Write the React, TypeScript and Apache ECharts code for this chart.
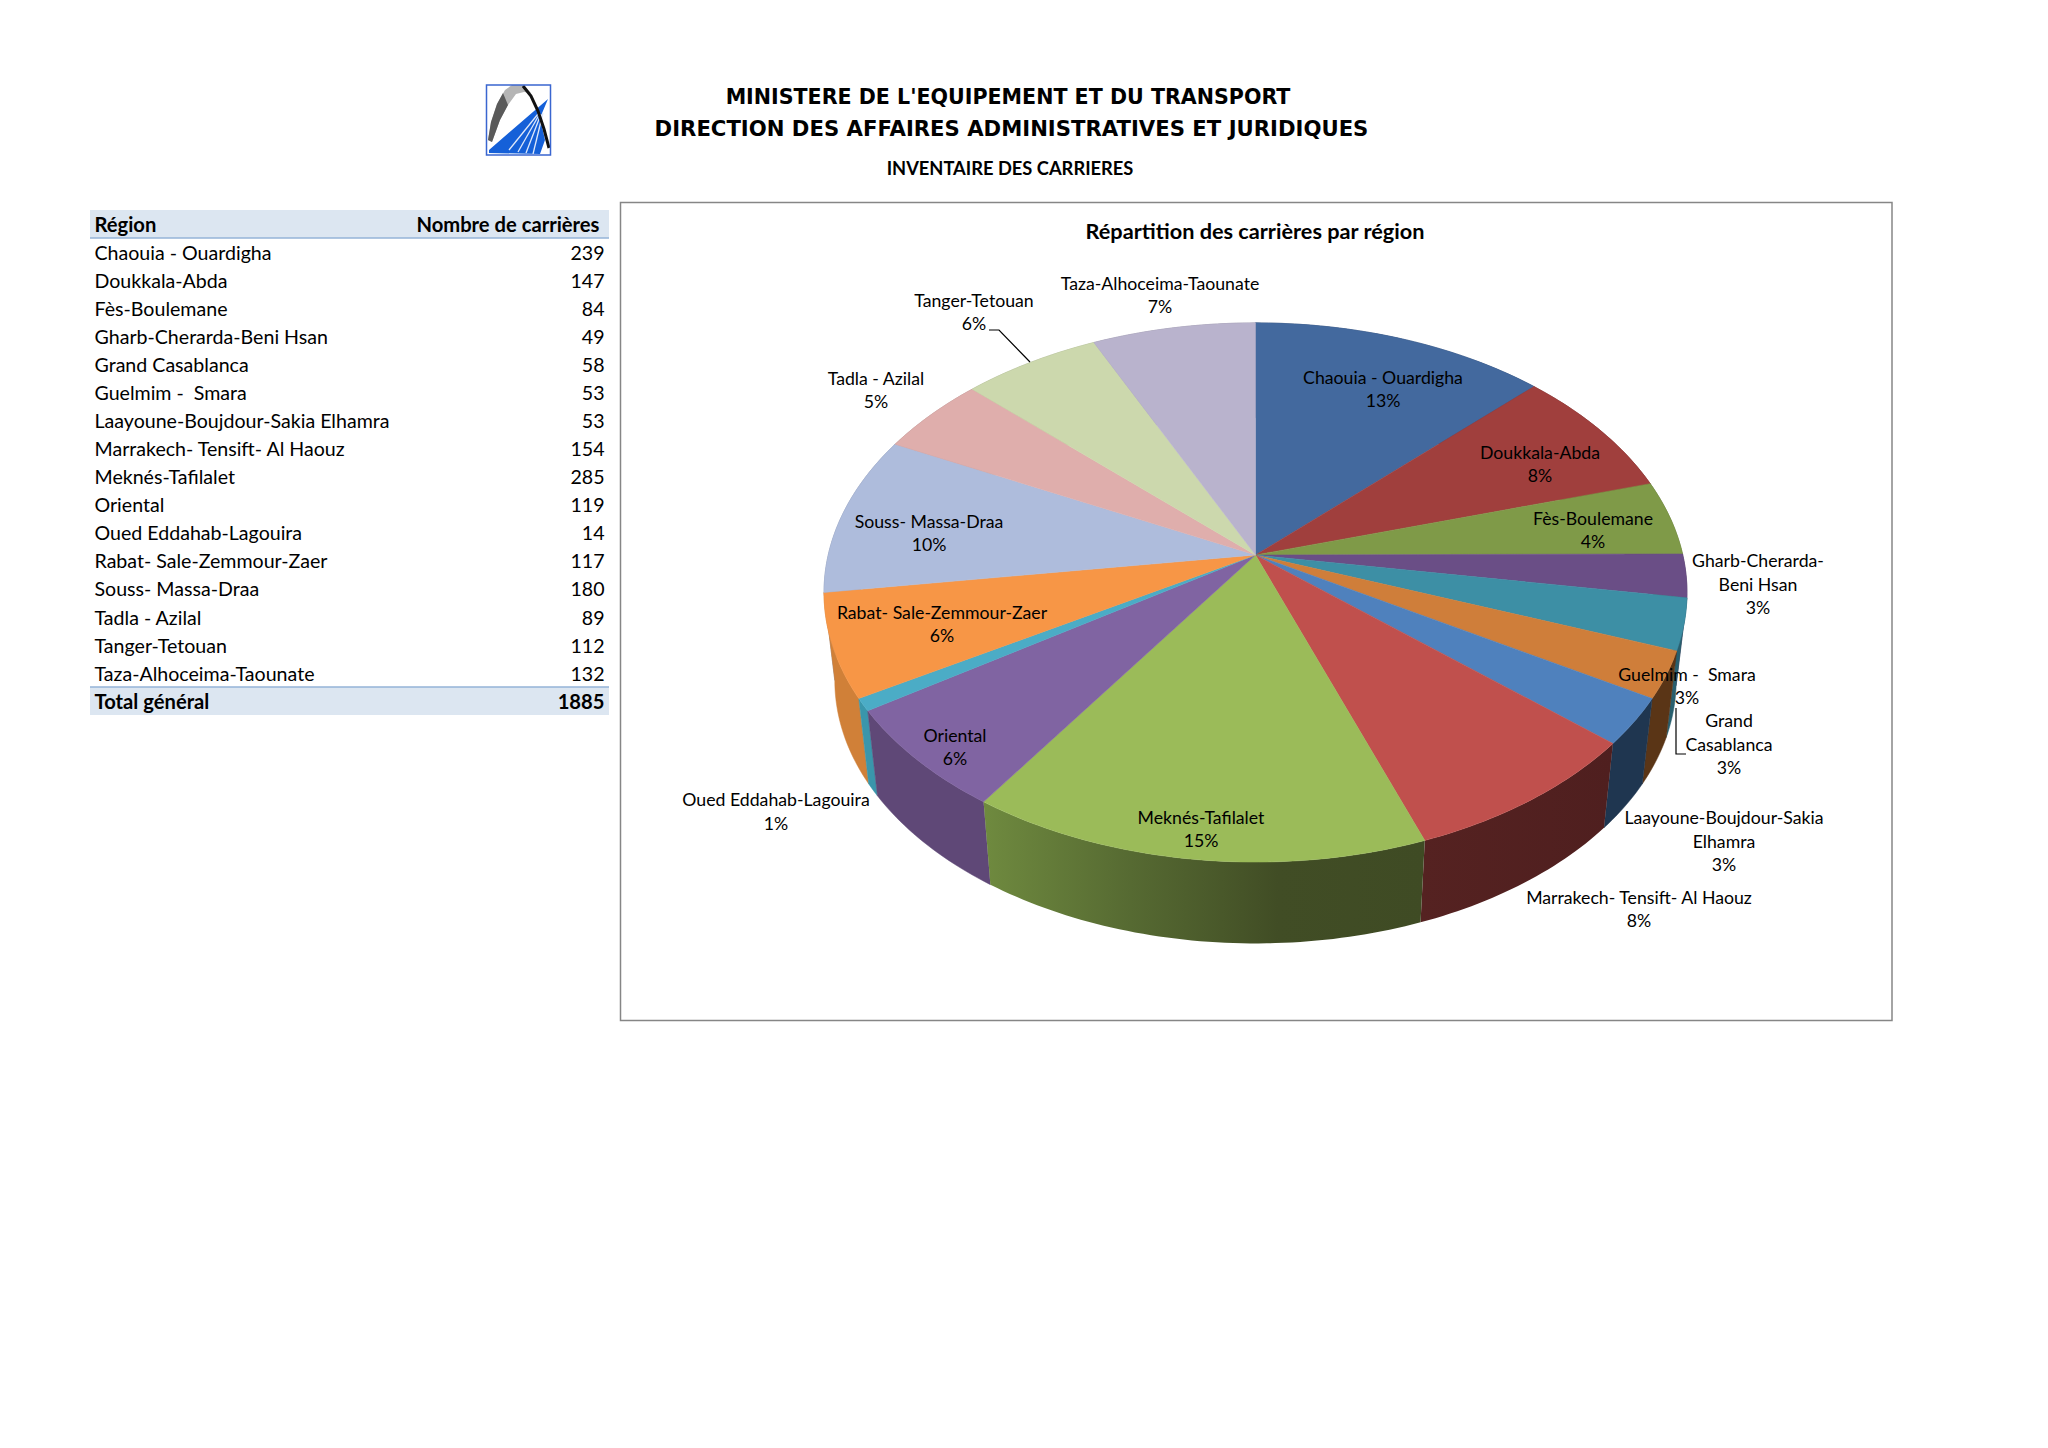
import React, { useEffect, useRef } from "react";
import * as echarts from "echarts";

const regions = ["Chaouia - Ouardigha","Doukkala-Abda","Fès-Boulemane","Gharb-Cherarda-Beni Hsan","Grand Casablanca","Guelmim -  Smara","Laayoune-Boujdour-Sakia Elhamra","Marrakech- Tensift- Al Haouz","Meknés-Tafilalet","Oriental","Oued Eddahab-Lagouira","Rabat- Sale-Zemmour-Zaer","Souss- Massa-Draa","Tadla - Azilal","Tanger-Tetouan","Taza-Alhoceima-Taounate"];
const counts = [239,147,84,49,58,53,53,154,285,119,14,117,180,89,112,132];
const totalLabel = "Total général";
const totalValue = 1885;
const topColors = ["#43699e","#a03f3d","#7f9a48","#6a4e86","#3d8fa5","#cf7e3a","#4f81bd","#c0504d","#9bbb59","#8064a2","#4bacc6","#f79646","#aebcdc","#dfaeac","#ccd8ad","#b9b3cd"];
const wallColors: any[] = ["#2a4266","#6b2a29","#55662f","#483558","#285f6e","#5a3516","#1f3650",["#552221","#4f1f1f"],["#6f8a3f","#566a32","#414d25","#3f4b24"],"#5f4877","#3a96ab","#d08038","#7f8aa5","#a88280","#99a282","#8a8699"];
const labelLines = ["Chaouia - Ouardigha","Doukkala-Abda","Fès-Boulemane","Gharb-Cherarda-\nBeni Hsan","Grand\nCasablanca","Guelmim -  Smara","Laayoune-Boujdour-Sakia\nElhamra","Marrakech- Tensift- Al Haouz","Meknés-Tafilalet","Oriental","Oued Eddahab-Lagouira","Rabat- Sale-Zemmour-Zaer","Souss- Massa-Draa","Tadla - Azilal","Tanger-Tetouan","Taza-Alhoceima-Taounate"];
const labelSpots = [[1383,389],[1540,464],[1593,530],[1758,584],[1729,744],[1687,686],[1724,841],[1639,909],[1201,829],[955,747],[776,811.5],[942,624],[929,533],[876,390],[974,312],[1160,295]];

const FONT = "Lato, Carlito, sans-serif";
// 3D pie geometry
const AX = 1255.5, AY = 555, R = 427.3, RY = 264.4, PERSP = 0.139, BACK = 0.975, DEPTH = 89;
const TOTAL = counts.reduce((a, b) => a + b, 0);
const project = (deg: number, bottom: boolean) => {
  const t = (deg * Math.PI) / 180;
  const u = Math.sin(t), v = -Math.cos(t);
  const s = 1 / (1 - PERSP * v);
  const dx = R * u * s, dy = RY * v * s;
  return bottom ? [AX + BACK * dx, AY + BACK * dy + DEPTH] : [AX + dx, AY + dy];
};
const arc = (a: number, b: number, bottom: boolean) => {
  const pts: number[][] = [];
  const n = Math.max(2, Math.ceil(b - a));
  for (let i = 0; i <= n; i++) pts.push(project(a + ((b - a) * i) / n, bottom));
  return pts;
};

const renderSlice = (params: any) => {
  const i = params.dataIndex;
  const before = counts.slice(0, i).reduce((a, b) => a + b, 0);
  const a0 = (before / TOTAL) * 360, a1 = ((before + counts[i]) / TOTAL) * 360;
  const mid = ((a0 + a1) / 2) * Math.PI / 180;
  const top = arc(a0, a1, false);
  const wc = wallColors[i];
  const wallFill = Array.isArray(wc)
    ? new echarts.graphic.LinearGradient(0, 0, 1, 0, wc.map((c: string, k: number) => ({ offset: k / (wc.length - 1), color: c })))
    : wc;
  return {
    type: "group",
    children: [
      {
        type: "polygon",
        z2: Math.round((-Math.cos(mid) + 1) * 100),
        shape: { points: [...top, ...arc(a0, a1, true).reverse()] },
        style: { fill: wallFill, stroke: Array.isArray(wc) ? "none" : wc, lineWidth: 0.5 },
      },
      {
        type: "polygon",
        z2: 1000,
        shape: { points: [[AX, AY], ...top] },
        style: { fill: topColors[i], stroke: topColors[i], lineWidth: 0.5 },
      },
    ],
  };
};

const text = (t: string, x: number, y: number, opts: any = {}) => ({
  type: "text",
  z: 10,
  style: {
    text: t, x, y,
    align: opts.align || "left",
    verticalAlign: "middle",
    fontFamily: opts.family || FONT,
    fontSize: opts.size || 19.6,
    fontWeight: opts.bold ? "bold" : "normal",
    lineHeight: opts.lh,
    fill: "#000",
  },
});

const ROW0 = 224.2, ROWH = 28.06, TX = 94.5, VX = 604.5;
const tableGraphics: any[] = [
  { type: "rect", shape: { x: 90, y: 210, width: 519, height: 28 }, style: { fill: "#dce6f1" } },
  { type: "line", shape: { x1: 90, y1: 238, x2: 609, y2: 238 }, style: { stroke: "#95b3d7", lineWidth: 1.5 } },
  { type: "rect", shape: { x: 90, y: 687, width: 519, height: 28 }, style: { fill: "#dce6f1" } },
  { type: "line", shape: { x1: 90, y1: 687, x2: 609, y2: 687 }, style: { stroke: "#95b3d7", lineWidth: 1.5 } },
  text("Région", TX, ROW0, { bold: true, size: 20.2 }),
  text("Nombre de carrières", 599.5, ROW0, { bold: true, align: "right", size: 20.2 }),
  ...regions.flatMap((r, i) => [
    text(r, TX, ROW0 + ROWH * (i + 1)),
    text(String(counts[i]), VX, ROW0 + ROWH * (i + 1), { align: "right" }),
  ]),
  text(totalLabel, TX, ROW0 + ROWH * 17, { bold: true, size: 20.2 }),
  text(String(totalValue), VX, ROW0 + ROWH * 17, { bold: true, align: "right", size: 20.2 }),
];

const logoGraphics: any[] = [
  { type: "polygon", shape: { points: [[548,99],[489,150],[489,153],[540,154],[545,140],[540,118]] }, style: { fill: "#1560d8" } },
  ...[[509,150,538,114],[518,152,539,115],[526,153,541,114],[533,154,543,113]].map(([a,b,c,d]) => ({
    type: "line", shape: { x1: a, y1: b, x2: c, y2: d }, style: { stroke: "#dfe8fa", lineWidth: 1.3 },
  })),
  { type: "polygon", shape: { points: [[488,140],[491,122],[497,104],[505,90],[512,85],[524,85],[531,93],[524,92],[516,94],[508,105],[500,120],[492,142]] }, style: { fill: "#b5b5b5" } },
  { type: "polygon", shape: { points: [[488,140],[491,122],[497,104],[503,93],[508,105],[500,120],[492,142]] }, style: { fill: "#5a5a5a" } },
  { type: "polyline", shape: { points: [[523,86],[531,96],[538,111],[544,129],[549,148]] }, style: { stroke: "#111", lineWidth: 3, fill: "none" } },
  { type: "rect", shape: { x: 486.5, y: 85, width: 64, height: 70 }, style: { fill: "none", stroke: "#3a66d0", lineWidth: 1.5 } },
];

const headerGraphics: any[] = [
  text("MINISTERE DE L'EQUIPEMENT ET DU TRANSPORT", 1008, 96.5, { family: "DejaVu Sans", bold: true, size: 20.6, align: "center" }),
  text("DIRECTION DES AFFAIRES ADMINISTRATIVES ET JURIDIQUES", 1011.5, 128.5, { family: "DejaVu Sans", bold: true, size: 21.2, align: "center" }),
  text("INVENTAIRE DES CARRIERES", 1010, 167.5, { bold: true, size: 18.3, align: "center" }),
];

const chartGraphics: any[] = [
  { type: "rect", z: -1, shape: { x: 620.5, y: 202.5, width: 1271.5, height: 818 }, style: { fill: "#fff", stroke: "#868686", lineWidth: 1.5 } },
  text("Répartition des carrières par région", 1255, 231, { bold: true, size: 21.7, align: "center" }),
  ...labelLines.map((l, i) =>
    text(`${l}\n${Math.round((counts[i] / TOTAL) * 100)}%`, labelSpots[i][0], labelSpots[i][1], { size: 17.7, align: "center", lh: 23.5 })
  ),
  { type: "polyline", z: 10, shape: { points: [[989,330],[999,330],[1030,362]] }, style: { stroke: "#000", lineWidth: 1.2, fill: "none" } },
  { type: "polyline", z: 10, shape: { points: [[1676,708],[1676,754],[1686,754]] }, style: { stroke: "#000", lineWidth: 1.2, fill: "none" } },
];

export default function App() {
  const ref = useRef<HTMLDivElement>(null);
  useEffect(() => {
    document.body.style.margin = "0";
    const chart = echarts.init(ref.current!, undefined, { renderer: "svg" });
    chart.setOption({
      animation: false,
      backgroundColor: "#fff",
      graphic: { elements: [...chartGraphics, ...tableGraphics, ...logoGraphics, ...headerGraphics] },
      series: [
        {
          type: "custom",
          coordinateSystem: "none",
          silent: true,
          z: 5,
          data: counts.map((v, i) => [i, v]),
          renderItem: renderSlice,
        },
      ],
    });
    return () => chart.dispose();
  }, []);
  return <div ref={ref} style={{ width: 2048, height: 1448 }} />;
}
